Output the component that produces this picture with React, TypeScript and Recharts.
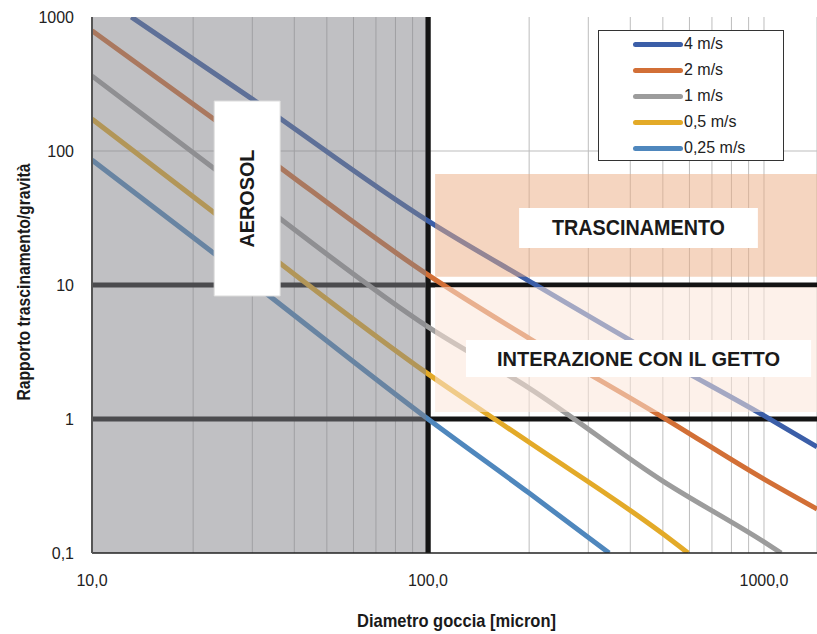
import { LineChart, Line, XAxis, YAxis, CartesianGrid, ReferenceArea, ReferenceLine } from "recharts";

const speeds = ["4 m/s", "2 m/s", "1 m/s", "0,5 m/s", "0,25 m/s"];
const colors = ["#3b5ea8", "#d26f36", "#9c9c9c", "#e3aa28", "#4f87bd"];

// diameter [micron] / drag-to-gravity ratio
const d4 = [13.1, 30, 100, 200, 500, 1000, 1438];
const r4 = [1000, 244, 30.1, 10.7, 2.8, 1.06, 0.62];
const d2 = [10, 30, 100, 200, 500, 1000, 1438];
const r2 = [790, 107, 11.9, 4.0, 1.03, 0.356, 0.213];
const d1 = [10, 30, 100, 200, 500, 1000, 1125];
const r1 = [363, 44.9, 4.87, 1.7, 0.344, 0.121, 0.1];
const d05 = [10, 30, 100, 200, 500, 594];
const r05 = [173, 20.9, 2.17, 0.67, 0.139, 0.1];
const d025 = [10, 30, 100, 200, 346];
const r025 = [85.7, 10.4, 1.0, 0.28, 0.1];

const xTicks = [10, 20, 30, 40, 50, 60, 70, 80, 90, 100, 200, 300, 400, 500, 600, 700, 800, 900, 1000];
const xLabels = [10, 100, 1000];
const yTicks = [0.1, 1, 10, 100, 1000];

const toPoints = (d: number[], r: number[]) => d.map((x, i) => ({ d: x, r: r[i] }));
const series = [toPoints(d4, r4), toPoints(d2, r2), toPoints(d1, r1), toPoints(d05, r05), toPoints(d025, r025)];

const sans = "'Liberation Sans', Arial, sans-serif";

const BoxText = (props: any) => {
  const { viewBox, text, size, rotate, length } = props;
  const cx = viewBox.x + viewBox.width / 2;
  const cy = viewBox.y + viewBox.height / 2;
  return (
    <text
      x={cx}
      y={cy}
      textAnchor="middle"
      dominantBaseline="central"
      transform={rotate ? `rotate(-90 ${cx} ${cy})` : undefined}
      fontFamily={sans}
      fontWeight="bold"
      fontSize={size}
      fill="#1a1a1a"
      textLength={length}
      lengthAdjust="spacingAndGlyphs"
    >
      {text}
    </text>
  );
};

const YTitle = (props: any) => {
  const { viewBox } = props;
  const cx = viewBox.x - 8;
  const cy = viewBox.y + viewBox.height / 2 - 3;
  return (
    <text x={cx} y={cy} textAnchor="middle" dominantBaseline="central" transform={`rotate(-90 ${cx} ${cy})`}
      fontFamily={sans} fontWeight="bold" fontSize={18} fill="#1a1a1a" textLength={237} lengthAdjust="spacingAndGlyphs">
      Rapporto trascinamento/gravità
    </text>
  );
};

const XTitle = (props: any) => {
  const { viewBox } = props;
  return (
    <text x={viewBox.x + viewBox.width / 2 + 2} y={viewBox.y + 67} textAnchor="middle" dominantBaseline="central"
      fontFamily={sans} fontWeight="bold" fontSize={19} fill="#1a1a1a" textLength={199} lengthAdjust="spacingAndGlyphs">
      Diametro goccia [micron]
    </text>
  );
};

const ChartLegend = () => (
  <div style={{ position: "absolute", left: 598, top: 30, width: 184, height: 129, background: "#fff", border: "1.5px solid #333", fontFamily: sans, fontSize: 16, color: "#222" }}>
    {speeds.map((s, i) => (
      <div key={s} style={{ position: "absolute", left: 34, top: 4 + i * 26, height: 18, display: "flex", alignItems: "center" }}>
        <div style={{ width: 50, height: 5, borderRadius: 3, background: colors[i] }} />
        <span style={{ marginLeft: 1 }}>{s}</span>
      </div>
    ))}
  </div>
);

const fmt = (v: number) => (xLabels.includes(v) ? v.toFixed(1).replace(".", ",") : "");
const fmtY = (v: number) => String(v).replace(".", ",");

export default function App() {
  return (
    <div style={{ position: "absolute", left: 0, top: 0, width: 817, height: 634, background: "#fff" }}>
      <LineChart width={817} height={634} margin={{ top: 17, right: 0, bottom: 41, left: 32 }}>
        <CartesianGrid horizontal={false} stroke="#bdbdbd" strokeWidth={1} />
        <XAxis
          type="number"
          dataKey="d"
          scale="log"
          domain={[10, 1438]}
          allowDataOverflow
          ticks={xTicks}
          interval={0}
          tickFormatter={fmt}
          tickLine={false}
          tickMargin={16}
          height={40}
          axisLine={{ stroke: "#222", strokeWidth: 1.5 }}
          tick={{ fill: "#222", fontSize: 16, fontFamily: sans }}
          label={<XTitle />}
        />
        <YAxis
          type="number"
          dataKey="r"
          scale="log"
          domain={[0.1, 1000]}
          allowDataOverflow
          ticks={yTicks}
          interval={0}
          tickFormatter={fmtY}
          tickLine={false}
          tickMargin={12}
          width={60}
          axisLine={{ stroke: "#555", strokeWidth: 2 }}
          tick={{ fill: "#222", fontSize: 16, fontFamily: sans }}
          label={<YTitle />}
        />
        <ReferenceLine y={100} stroke="#bdbdbd" strokeWidth={1} zIndex={-90} />
        <ReferenceLine y={10} stroke="#141414" strokeWidth={5} zIndex={350} />
        <ReferenceLine y={1} stroke="#141414" strokeWidth={5} zIndex={350} />
        <ReferenceLine x={100} stroke="#141414" strokeWidth={5.5} zIndex={350} />
        {series.map((data, i) => (
          <Line
            key={speeds[i]}
            data={data}
            dataKey="r"
            name={speeds[i]}
            type="monotone"
            stroke={colors[i]}
            strokeWidth={5}
            dot={false}
            activeDot={false}
            isAnimationActive={false}
          />
        ))}
        <ReferenceArea x1={10} x2={98.6} y1={0.1} y2={1000} fill="rgb(129,130,135)" fillOpacity={0.5} stroke="none" zIndex={450} />
        <ReferenceArea x1={105} x2={1438} y1={11.5} y2={67.3} fill="rgb(235,171,129)" fillOpacity={0.5} stroke="none" zIndex={450} />
        <ReferenceArea x1={105} x2={1438} y1={1.13} y2={9.67} fill="rgb(251,230,217)" fillOpacity={0.55} stroke="none" zIndex={450} />
        <ReferenceArea x1={23.1} x2={36.3} y1={8.28} y2={236} fill="#fff" fillOpacity={1} stroke="#ddd" zIndex={460}
          label={<BoxText text="AEROSOL" size={20} rotate length={98} />} />
        <ReferenceArea x1={186.7} x2={959} y1={18.9} y2={37.6} fill="#fff" fillOpacity={1} stroke="none" zIndex={460}
          label={<BoxText text="TRASCINAMENTO" size={22} length={173} />} />
        <ReferenceArea x1={129.7} x2={1381} y1={2.06} y2={3.89} fill="#fff" fillOpacity={1} stroke="none" zIndex={460}
          label={<BoxText text="INTERAZIONE CON IL GETTO" size={21} length={283} />} />
      </LineChart>
      <ChartLegend />
    </div>
  );
}
